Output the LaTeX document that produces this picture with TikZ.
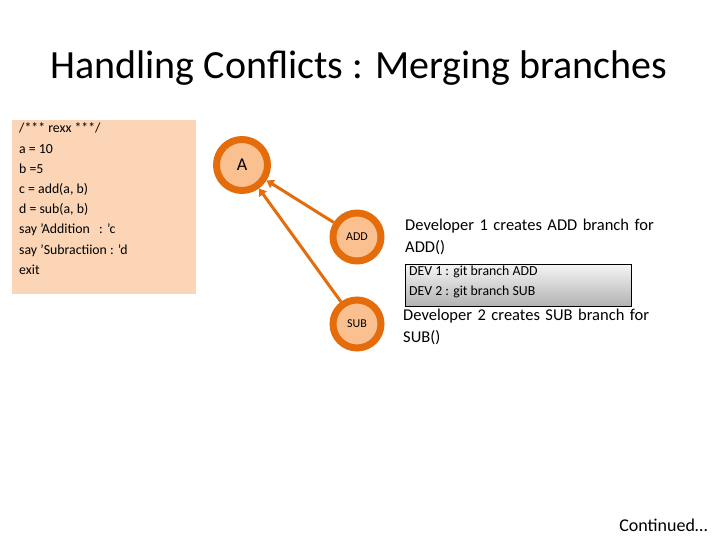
\documentclass[tikz,border=0pt]{standalone}
\usepackage{fontspec}
\setmainfont{Carlito}
\usetikzlibrary{arrows.meta}
\definecolor{org}{HTML}{E46C0A}
\definecolor{peach}{HTML}{FAC090}
\definecolor{codebg}{HTML}{FBD5B5}
\tikzset{commit/.style={circle,draw=org,line width=7pt,fill=peach,minimum size=#1},
 link/.style={draw=org,line width=3pt,-{Triangle[length=7pt,width=9pt]}},
 desc/.style={anchor=north west,align=left,font=\fontsize{16.5}{22}\selectfont,text width=270pt,inner sep=0pt}}
\begin{document}
\begin{tikzpicture}[x=1pt,y=-1pt]
\useasboundingbox (0,0) rectangle (720,540);
\node (title) at (359,68) {\fontsize{40}{44}\selectfont Handling Conflicts : Merging branches};
\node[fill=codebg,minimum width=184pt,minimum height=174pt,anchor=north west] (code) at (12,120) {};
\node[anchor=north west,align=left,inner sep=0pt,font=\fontsize{13.8}{20.2}\selectfont] (codetxt) at (19,123)
 {/*** rexx ***/\\a = 10\\b =5\\c = add(a, b)\\d = sub(a, b)\\say 'Addition~~~: 'c\\say 'Subractiion : 'd\\exit};
\node[commit=51pt,font=\fontsize{18}{20}\selectfont] (A) at (242,165) {A};
\node[commit=48pt,font=\fontsize{12}{12}\selectfont] (ADD) at (357,237) {ADD};
\node[commit=48pt,font=\fontsize{12}{12}\selectfont] (SUB) at (357,324) {SUB};
\draw[link] (ADD) -- (A);
\draw[link] (SUB) -- (A);
\node[desc] (d1) at (405,219) {Developer 1 creates ADD branch for ADD()};
\node[draw,top color=white!92!gray,bottom color=gray!60,minimum width=226pt,minimum height=42pt,anchor=north west] (cmd) at (405,264) {};
\node[anchor=north west,align=left,inner sep=0pt,font=\fontsize{13.8}{20}\selectfont] (cmdtxt) at (409,266) {DEV 1 : git branch ADD\\DEV 2 : git branch SUB};
\node[desc] (d2) at (403,309) {Developer 2 creates SUB branch for SUB()};
\node[anchor=east,font=\fontsize{18}{20}\selectfont] (cont) at (711,525) {Continued…};
\end{tikzpicture}
\end{document}
